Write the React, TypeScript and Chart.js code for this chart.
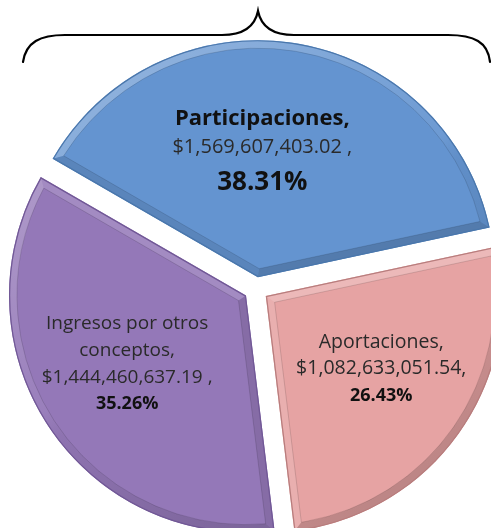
import React, { useEffect, useRef } from "react";
import { Chart, registerables } from "chart.js";

Chart.register(...registerables);

// ---- data ----
const categories = ["Participaciones", "Aportaciones", "Ingresos por otros conceptos"];
const amounts = [1569607403.02, 1082633051.54, 1444460637.19];
const amountLabels = ["$1,569,607,403.02 ,", "$1,082,633,051.54,", "$1,444,460,637.19 ,"];
const percentLabels = ["38.31%", "26.43%", "35.26%"];
const nameLines = [["Participaciones,"], ["Aportaciones,"], ["Ingresos por otros", "conceptos,"]];

// ---- style ----
const fillColors = ["#6494D0", "#E6A3A3", "#9478B8"];
const edgeColors = ["#4A77AC", "#B87D7D", "#715896"];
const FONT = "'Open Sans', 'Noto Sans', sans-serif";
const EXPLODE = 12;
const BEVEL = 8;

type LineStyle = { size: number; bold: boolean; y: number; color: string };
const labelLayout: { dx: number; dy: number; lines: LineStyle[] }[] = [
  {
    dx: -14,
    dy: 0,
    lines: [
      { size: 22, bold: true, y: -35, color: "#111" },
      { size: 20, bold: false, y: -7, color: "#2a2a2a" },
      { size: 26, bold: true, y: 30, color: "#111" },
    ],
  },
  {
    dx: 19,
    dy: 0,
    lines: [
      { size: 19.5, bold: false, y: -17, color: "#2a2a2a" },
      { size: 19.5, bold: false, y: 9, color: "#2a2a2a" },
      { size: 18, bold: true, y: 36, color: "#111" },
    ],
  },
  {
    dx: -20,
    dy: 0,
    lines: [
      { size: 19, bold: false, y: -32, color: "#2a2a2a" },
      { size: 19, bold: false, y: -5, color: "#2a2a2a" },
      { size: 19, bold: false, y: 22, color: "#2a2a2a" },
      { size: 18, bold: true, y: 48, color: "#111" },
    ],
  },
];

const LIGHT = (() => {
  const lx = -0.55, ly = -0.85;
  const n = Math.hypot(lx, ly);
  return [lx / n, ly / n];
})();

function shadeColor(k: number): string {
  if (k >= 0) return `rgba(255,255,255,${(0.04 + 0.22 * k).toFixed(3)})`;
  return `rgba(0,0,0,${(0.03 + 0.15 * -k).toFixed(3)})`;
}

function addWedge(ctx: CanvasRenderingContext2D, x: number, y: number, r: number, s: number, e: number, d: number) {
  if (d <= 0) {
    ctx.moveTo(x, y);
    ctx.arc(x, y, r, s, e);
    ctx.closePath();
    return;
  }
  const half = (e - s) / 2;
  const mid = s + half;
  const td = d / Math.sin(half);
  const rr = r - d;
  const da = Math.asin(d / rr);
  ctx.moveTo(x + Math.cos(mid) * td, y + Math.sin(mid) * td);
  ctx.arc(x, y, rr, s + da, e - da);
  ctx.closePath();
}

function drawBevel(ctx: CanvasRenderingContext2D, el: any, edge: string) {
  const { x, y, startAngle: s, endAngle: e, outerRadius: R } = el;
  const d = BEVEL;
  const half = (e - s) / 2;
  const mid = s + half;
  const td = d / Math.sin(half);
  const rr = R - d;
  const da = Math.asin(d / rr);
  const T = [x + Math.cos(mid) * td, y + Math.sin(mid) * td];
  const Ps = [x + Math.cos(s) * R, y + Math.sin(s) * R];
  const Pe = [x + Math.cos(e) * R, y + Math.sin(e) * R];
  const Is = [x + Math.cos(s + da) * rr, y + Math.sin(s + da) * rr];
  const Ie = [x + Math.cos(e - da) * rr, y + Math.sin(e - da) * rr];

  ctx.save();
  ctx.beginPath();
  addWedge(ctx, x, y, R, s, e, 0);
  ctx.clip();

  // start edge
  const ns = [Math.cos(s - Math.PI / 2), Math.sin(s - Math.PI / 2)];
  ctx.beginPath();
  ctx.moveTo(x, y);
  ctx.lineTo(Ps[0], Ps[1]);
  ctx.lineTo(Is[0], Is[1]);
  ctx.lineTo(T[0], T[1]);
  ctx.closePath();
  ctx.fillStyle = shadeColor(ns[0] * LIGHT[0] + ns[1] * LIGHT[1]);
  ctx.fill();

  // end edge
  const ne = [Math.cos(e + Math.PI / 2), Math.sin(e + Math.PI / 2)];
  ctx.beginPath();
  ctx.moveTo(x, y);
  ctx.lineTo(Pe[0], Pe[1]);
  ctx.lineTo(Ie[0], Ie[1]);
  ctx.lineTo(T[0], T[1]);
  ctx.closePath();
  ctx.fillStyle = shadeColor(ne[0] * LIGHT[0] + ne[1] * LIGHT[1]);
  ctx.fill();

  // arc band
  const cg = (ctx as any).createConicGradient(0, x, y);
  const N = 48;
  for (let i = 0; i <= N; i++) {
    const a = (i / N) * Math.PI * 2;
    const k = Math.cos(a) * LIGHT[0] + Math.sin(a) * LIGHT[1];
    cg.addColorStop(i / N, shadeColor(k));
  }
  ctx.beginPath();
  ctx.moveTo(Ps[0], Ps[1]);
  ctx.arc(x, y, R, s, e);
  ctx.lineTo(Ie[0], Ie[1]);
  ctx.arc(x, y, rr, e - da, s + da, true);
  ctx.closePath();
  ctx.fillStyle = cg;
  ctx.fill();

  // inner crease line
  ctx.beginPath();
  addWedge(ctx, x, y, R, s, e, d);
  ctx.strokeStyle = "rgba(0,0,0,0.13)";
  ctx.lineWidth = 1;
  ctx.stroke();

  // outer edge
  ctx.beginPath();
  addWedge(ctx, x, y, R, s, e, 0);
  ctx.strokeStyle = edge;
  ctx.lineWidth = 2.5;
  ctx.stroke();
  ctx.restore();
}

const explodePlugin = {
  id: "explodeBevelLabels",
  beforeDatasetsDraw(chart: any) {
    const meta = chart.getDatasetMeta(0);
    meta.data.forEach((el: any) => {
      const mid = (el.startAngle + el.endAngle) / 2;
      el._ox = el.x;
      el._oy = el.y;
      el.x = el._ox + Math.cos(mid) * EXPLODE;
      el.y = el._oy + Math.sin(mid) * EXPLODE;
    });
  },
  afterDatasetsDraw(chart: any) {
    const ctx: CanvasRenderingContext2D = chart.ctx;
    const meta = chart.getDatasetMeta(0);
    meta.data.forEach((el: any, i: number) => {
      drawBevel(ctx, el, edgeColors[i]);
    });
    meta.data.forEach((el: any, i: number) => {
      const pos = el.tooltipPosition();
      const lay = labelLayout[i];
      const texts = [...nameLines[i], amountLabels[i], percentLabels[i]];
      ctx.save();
      ctx.textAlign = "center";
      ctx.textBaseline = "alphabetic";
      texts.forEach((t, j) => {
        const ls = lay.lines[j];
        ctx.font = `${ls.bold ? "bold " : ""}${ls.size}px ${FONT}`;
        ctx.fillStyle = ls.color;
        ctx.fillText(t, pos.x + lay.dx, pos.y + lay.dy + ls.y);
      });
      ctx.restore();
    });
    meta.data.forEach((el: any) => {
      el.x = el._ox;
      el.y = el._oy;
    });
  },
  afterDraw(chart: any) {
    const ctx: CanvasRenderingContext2D = chart.ctx;
    ctx.save();
    ctx.strokeStyle = "#000";
    ctx.lineWidth = 2.2;
    ctx.lineCap = "round";
    ctx.beginPath();
    ctx.moveTo(23, 62);
    ctx.bezierCurveTo(26, 42, 40, 35, 65, 35);
    ctx.lineTo(222, 35);
    ctx.bezierCurveTo(244, 35, 255, 26, 258, 11);
    ctx.bezierCurveTo(261, 26, 272, 35, 294, 35);
    ctx.lineTo(448, 35);
    ctx.bezierCurveTo(474, 35, 488, 42, 490, 62);
    ctx.stroke();
    ctx.restore();
  },
};

export default function App() {
  const canvasRef = useRef<HTMLCanvasElement | null>(null);

  useEffect(() => {
    if (!canvasRef.current) return;
    const chart = new Chart(canvasRef.current, {
      type: "pie",
      data: {
        labels: categories,
        datasets: [
          {
            data: amounts,
            backgroundColor: fillColors,
            borderColor: edgeColors,
            borderWidth: 0,
            clip: false,
          } as any,
        ],
      },
      options: {
        responsive: true,
        maintainAspectRatio: false,
        animation: false,
        events: [],
        rotation: -60,
        radius: 237,
        layout: { padding: { left: 21, top: 50, right: 0, bottom: 0 } },
        plugins: {
          legend: { display: false },
          tooltip: { enabled: false },
        },
      } as any,
      plugins: [explodePlugin],
    });
    return () => chart.destroy();
  }, []);

  return (
    <div style={{ position: "fixed", left: 0, top: 0, width: 491, height: 528, background: "#fff" }}>
      <canvas ref={canvasRef} />
    </div>
  );
}
